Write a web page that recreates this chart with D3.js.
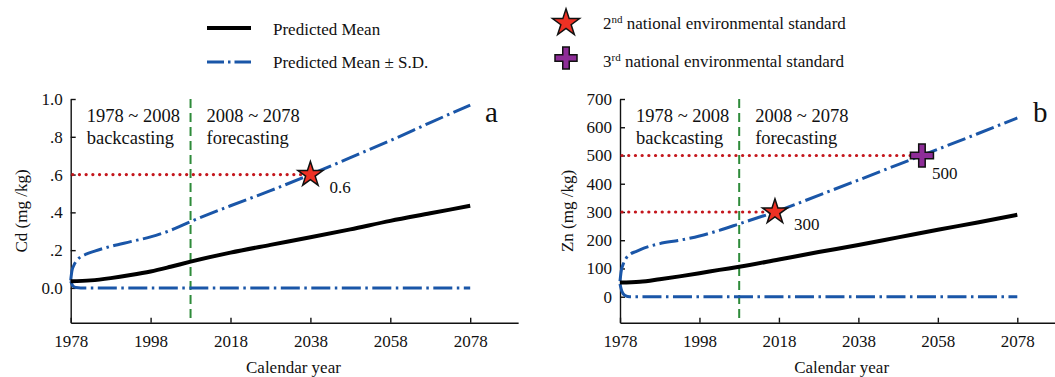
<!DOCTYPE html>
<html>
  <head>
    <script src="https://d3js.org/d3.v7.min.js" charset="utf-8"></script>
    <meta charset="UTF-8">
    <title>Cd and Zn forecast</title>
    <style>
      body { margin: 0; background: #fff; }
      .domain, .tick line { stroke: #111; stroke-width: 1.4; }
    </style>
  </head>
  <body>
    <svg class="chart"></svg>
    <script type="text/javascript">

      var width = 1055,
          height = 377,
          serif = "'Liberation Serif', 'Times New Roman', serif";

      // sample years for each curve
      var yearsMean  = [1978, 1983, 1988, 1993, 1998, 2003, 2008, 2018, 2028, 2038, 2048, 2058, 2068, 2078];
      var yearsUpper = [1978, 1978.3, 1978.8, 1979.5, 1980.5, 1982, 1984, 1988, 1993, 1998, 2003, 2008,
                        2018, 2028, 2038, 2048, 2058, 2068, 2078];
      var yearsLower = [1978, 1978.5, 1979.3, 1980.5, 2078];

      // panel a: Cd (mg/kg)
      var meanCd  = [0.035, 0.040, 0.052, 0.068, 0.087, 0.112, 0.139, 0.187, 0.228, 0.268, 0.31, 0.355, 0.395, 0.435];
      var upperCd = [0.04, 0.09, 0.12, 0.145, 0.165, 0.18, 0.195, 0.22, 0.245, 0.27, 0.305, 0.351,
                     0.435, 0.515, 0.6, 0.69, 0.78, 0.875, 0.968];
      var lowerCd = [0.035, 0.012, 0.002, 0, 0];

      // panel b: Zn (mg/kg)
      var meanZn  = [50, 53, 62, 72, 83, 95, 106, 132, 158, 183, 210, 237, 263, 290];
      var upperZn = [55, 90, 115, 135, 150, 160, 172, 188, 200, 215, 235, 258,
                     305, 359, 413, 468, 522, 577, 633];
      var lowerZn = [45, 18, 4, 0, 0];

      var xTicks = [1978, 1998, 2018, 2038, 2058, 2078];
      var yTicksCd = [0, 0.2, 0.4, 0.6, 0.8, 1.0];
      var yTickLabelsCd = ["0.0", ".2", ".4", ".6", ".8", "1.0"];
      var yTicksZn = [0, 100, 200, 300, 400, 500, 600, 700];

      // national standards crossed by the upper curve
      var standardsCd = [{year: 2038, value: 0.6, kind: "star", label: "0.6"}];
      var standardsZn = [{year: 2017, value: 300, kind: "star", label: "300"},
                         {year: 2054, value: 500, kind: "plus", label: "500"}];

      var splitYear = 2008;

      var chart = d3.select(".chart")
          .attr("width", width)
          .attr("height", height);

      function starPath(w) {
        var r = w / 1.902;
        return d3.symbol(d3.symbolStar, r * r / 0.8908130915292852)();
      }

      function plusPath(w, t) {
        var a = w / 2, b = t / 2;
        return "M" + (-b) + "," + (-a) + "H" + b + "V" + (-b) + "H" + a + "V" + b + "H" + b +
               "V" + a + "H" + (-b) + "V" + b + "H" + (-a) + "V" + (-b) + "H" + (-b) + "Z";
      }

      function marker(g, kind, x, y, w) {
        g.append("path")
          .attr("d", kind === "star" ? starPath(w) : plusPath(w, 6.5))
          .attr("transform", "translate(" + x + "," + y + ")")
          .attr("fill", kind === "star" ? "#ee3124" : "#8e2d98")
          .attr("stroke", "#111")
          .attr("stroke-width", 1.5);
      }

      function fontStyle(size) {
        return "font-family:" + serif + ";font-size:" + size + "px;fill:#111";
      }

      function addText(g, x, y, size, str) {
        return g.append("text")
          .attr("x", x).attr("y", y)
          .attr("style", fontStyle(size))
          .text(str);
      }

      function drawPanel(p) {
        var g = chart.append("g");
        var x = d3.scaleLinear().domain([1978, 2090]).range([p.left, p.left + 112 * p.yearPx]);
        var y = d3.scaleLinear().domain(p.yDomain).range([322.7, 99]);

        var xAxis = d3.axisBottom(x).tickValues(xTicks).tickFormat(d3.format("d"))
            .tickSizeInner(-5).tickSizeOuter(0).tickPadding(12);
        var yAxis = d3.axisLeft(y).tickValues(p.yTicks)
            .tickFormat(function(d, i) { return p.yLabels[i]; })
            .tickSizeInner(-5).tickSizeOuter(0).tickPadding(8);

        var gx = g.append("g").attr("transform", "translate(0,322.7)").call(xAxis);
        var gy = g.append("g").attr("transform", "translate(" + p.left + ",0)").call(yAxis);
        [gx, gy].forEach(function(a) {
          a.selectAll("text").attr("style", fontStyle(17));
        });

        // split line
        g.append("line")
          .attr("x1", x(splitYear)).attr("x2", x(splitYear))
          .attr("y1", 99).attr("y2", 322.7)
          .attr("stroke", "#2e8b3a").attr("stroke-width", 2)
          .attr("stroke-dasharray", "9,5");

        // standards guide lines
        p.standards.forEach(function(s) {
          g.append("line")
            .attr("x1", p.left + 2).attr("x2", x(s.year))
            .attr("y1", y(s.value)).attr("y2", y(s.value))
            .attr("stroke", "#c4161c").attr("stroke-width", 3.2)
            .attr("stroke-linecap", "round")
            .attr("stroke-dasharray", "0.1,6.6");
        });

        var line = d3.line()
            .x(function(d) { return x(d[0]); })
            .y(function(d) { return y(d[1]); })
            .curve(d3.curveMonotoneX);

        g.append("path")
          .attr("d", line(d3.zip(yearsUpper, p.upper)))
          .attr("fill", "none").attr("stroke", "#1a56a8").attr("stroke-width", 3)
          .attr("stroke-dasharray", "19,4.5,2.5,4.5");
        g.append("path")
          .attr("d", line(d3.zip(yearsLower, p.lower)))
          .attr("fill", "none").attr("stroke", "#1a56a8").attr("stroke-width", 3)
          .attr("stroke-dasharray", "19,4.5,2.5,4.5");
        g.append("path")
          .attr("d", line(d3.zip(yearsMean, p.mean)))
          .attr("fill", "none").attr("stroke", "#000").attr("stroke-width", 4);

        p.standards.forEach(function(s) {
          marker(g, s.kind, x(s.year), y(s.value), s.kind === "star" ? 25 : 23);
          addText(g, x(s.year) + (s.kind === "star" ? 19 : 10),
                  y(s.value) + (s.kind === "star" ? 18 : 24), 17, s.label);
        });

        // period annotations
        addText(g, p.left + 16, 122, 18.5, "1978 ~ 2008");
        addText(g, p.left + 16, 144, 18.5, "backcasting");
        addText(g, x(splitYear) + 16, 122, 18.5, "2008 ~ 2078");
        addText(g, x(splitYear) + 16, 144, 18.5, "forecasting");

        addText(g, p.letterX, 122, 29, p.letter);

        addText(g, 0, 0, 17, p.yLabel)
          .attr("transform", "translate(" + p.yLabelX + ",211) rotate(-90)")
          .attr("text-anchor", "middle");
        addText(g, (x(1978) + x(2078)) / 2 + 23, 373, 17, "Calendar year")
          .attr("text-anchor", "middle");
      }

      drawPanel({left: 70.7, yearPx: 3.995, yDomain: [-0.184, 1.0], yTicks: yTicksCd, yLabels: yTickLabelsCd,
                 mean: meanCd, upper: upperCd, lower: lowerCd, standards: standardsCd,
                 letter: "a", letterX: 485, yLabel: "Cd (mg /kg)", yLabelX: 27});
      drawPanel({left: 620, yearPx: 3.973, yDomain: [-92, 700], yTicks: yTicksZn, yLabels: yTicksZn.map(String),
                 mean: meanZn, upper: upperZn, lower: lowerZn, standards: standardsZn,
                 letter: "b", letterX: 1033, yLabel: "Zn (mg /kg)", yLabelX: 573});

      // legend
      var legend = chart.append("g");
      legend.append("line").attr("x1", 207).attr("x2", 251).attr("y1", 28).attr("y2", 28)
        .attr("stroke", "#000").attr("stroke-width", 4);
      legend.append("line").attr("x1", 207).attr("x2", 251).attr("y1", 62).attr("y2", 62)
        .attr("stroke", "#1a56a8").attr("stroke-width", 3).attr("stroke-dasharray", "17,4,2.5,4");
      addText(legend, 273, 35, 17, "Predicted Mean");
      addText(legend, 273, 68, 17, "Predicted Mean \u00b1 S.D.");

      marker(legend, "star", 566, 23, 27);
      marker(legend, "plus", 566, 58, 22);

      var t1 = addText(legend, 603, 29, 17, "");
      t1.append("tspan").text("2");
      t1.append("tspan").attr("style", "font-size:11px").attr("dy", -6).text("nd");
      t1.append("tspan").attr("dy", 6).text(" national environmental standard");
      var t2 = addText(legend, 603, 67, 17, "");
      t2.append("tspan").text("3");
      t2.append("tspan").attr("style", "font-size:11px").attr("dy", -6).text("rd");
      t2.append("tspan").attr("dy", 6).text(" national environmental standard");

    </script>
  </body>
</html>
